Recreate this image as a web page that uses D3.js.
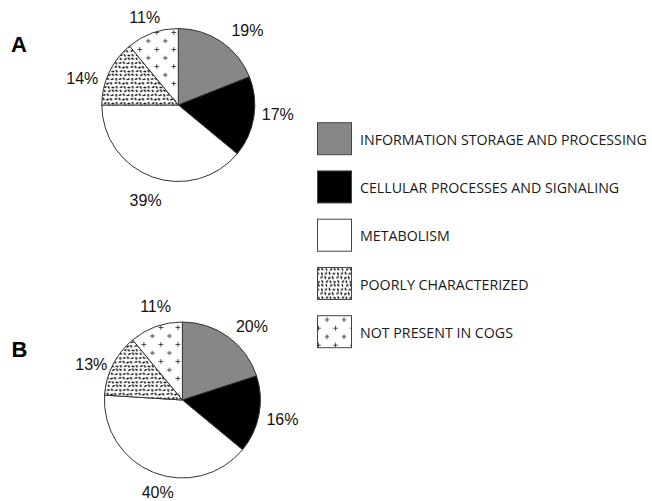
<!DOCTYPE html>
<html><head><meta charset="utf-8">
<script src="https://cdn.jsdelivr.net/npm/d3@7"></script>
<style>body{margin:0;background:#fff}svg{display:block}</style>
</head><body>
<svg id="chart" width="652" height="501"></svg>
<script>
// ---- data ----
const categories = ["INFORMATION STORAGE AND PROCESSING","CELLULAR PROCESSES AND SIGNALING","METABOLISM","POORLY CHARACTERIZED","NOT PRESENT IN COGS"];
const panelLetters = ["A","B"];
const valuesA = [19,17,39,14,11];
const valuesB = [20,16,40,13,11];

// ---- layout / style ----
const fills = ["#878787","#000000","#ffffff","url(#pat-dash)","url(#pat-plus)"];
const pies = [
  {letter: panelLetters[0], values: valuesA, cx: 178.3, cy: 105, r: 76.5,
   angNudge: [8.5,-3.5,-1,-9.7,-1.1], radNudge: [2,0,1.4,-0.4,-6], letterX: 11, letterY: 52.3},
  {letter: panelLetters[1], values: valuesB, cx: 182.4, cy: 400, r: 78,
   angNudge: [7.5,0.3,-6.6,-5.7,3.7], radNudge: [1,2,-4.5,-2.2,-3.2], letterX: 11.5, letterY: 356.7}
];
const labelR = 100;

const svg = d3.select("#chart");
const defs = svg.append("defs");

// dash pattern (texture tile)
const T = 16;
const pd = defs.append("pattern").attr("id","pat-dash").attr("patternUnits","userSpaceOnUse")
  .attr("width",T).attr("height",T);
pd.append("rect").attr("width",T).attr("height",T).attr("fill","#fff");
const dashes = [
  [1,1.2,3.4,2.4],[6,0.6,6.8,3.1],[10,2.6,12.4,1.4],[14,0.5,15.4,2.8],
  [1.6,5,2.2,7.6],[4.6,6.4,7.2,5.6],[9,4.6,10.2,7],[12.6,6.6,15.2,5.8],
  [0.4,10.4,2.8,9.4],[4.8,8.8,5.8,11.3],[8,11.2,10.5,10],[12.2,9,13.4,11.5],
  [1.8,13,3,15.4],[5.8,14.6,8.2,13.6],[10,13.2,11,15.6],[13.4,14.2,15.8,14.8]
];
pd.selectAll("line").data(dashes).join("line")
  .attr("x1",d=>d[0]).attr("y1",d=>d[1]).attr("x2",d=>d[2]).attr("y2",d=>d[3])
  .attr("stroke","#000").attr("stroke-width",1.4);

// plus pattern
const pp = defs.append("pattern").attr("id","pat-plus").attr("patternUnits","userSpaceOnUse")
  .attr("width",17).attr("height",17);
pp.append("rect").attr("width",17).attr("height",17).attr("fill","#fff");
[[4,4],[12.5,12.5]].forEach(([x,y])=>{
  pp.append("path").attr("d",`M${x-2.3},${y}H${x+2.3}M${x},${y-2.3}V${y+2.3}`)
    .attr("stroke","#333").attr("stroke-width",0.9).attr("fill","none");
});

const pieGen = d3.pie().sort(null).value(d=>d);

pies.forEach(p=>{
  const g = svg.append("g").attr("transform",`translate(${p.cx},${p.cy})`);
  const arc = d3.arc().innerRadius(0).outerRadius(p.r);
  const arcs = pieGen(p.values);
  g.selectAll("path.slice").data(arcs).join("path").attr("class","slice")
    .attr("d",arc).attr("fill",(d,i)=>fills[i])
    .attr("stroke","#333").attr("stroke-width",1);
  g.selectAll("text.lab").data(arcs).join("text").attr("class","lab")
    .attr("transform",(d,i)=>{
      const a = (d.startAngle+d.endAngle)/2 + p.angNudge[i]*Math.PI/180;
      const rr = labelR + p.radNudge[i];
      return `translate(${rr*Math.sin(a)},${-rr*Math.cos(a)})`;
    })
    .attr("text-anchor","middle").attr("dominant-baseline","central")
    .attr("font-family","'Liberation Sans', Arial, sans-serif").attr("font-size",16)
    .attr("fill","#111")
    .text(d=>d.data+"%");
  svg.append("text").attr("x",p.letterX).attr("y",p.letterY)
    .attr("font-family","'Liberation Sans', Arial, sans-serif").attr("font-weight","bold")
    .attr("font-size",22).attr("fill","#000").text(p.letter);
});

// legend
const ly = d3.scalePoint().domain(categories).range([122.7, 315.7]);
const lg = svg.append("g");
const items = lg.selectAll("g").data(categories).join("g")
  .attr("transform",d=>`translate(0,${ly(d)})`);
items.append("rect").attr("x",317.5).attr("y",0).attr("width",34).attr("height",32)
  .attr("fill",(d,i)=>fills[i]).attr("stroke","#444").attr("stroke-width",1);
const tg = items.append("g");
const texts = tg.append("text").attr("x",0).attr("y",0)
  .attr("dominant-baseline","central")
  .attr("font-family","'Open Sans', sans-serif").attr("font-size",14.5)
  .attr("fill","#1a1a1a").text(d=>d);
const w0 = texts.node().getComputedTextLength();
const sx = 287/w0;
tg.attr("transform",`translate(360,16.5) scale(${sx},1)`);
</script>
</body></html>
